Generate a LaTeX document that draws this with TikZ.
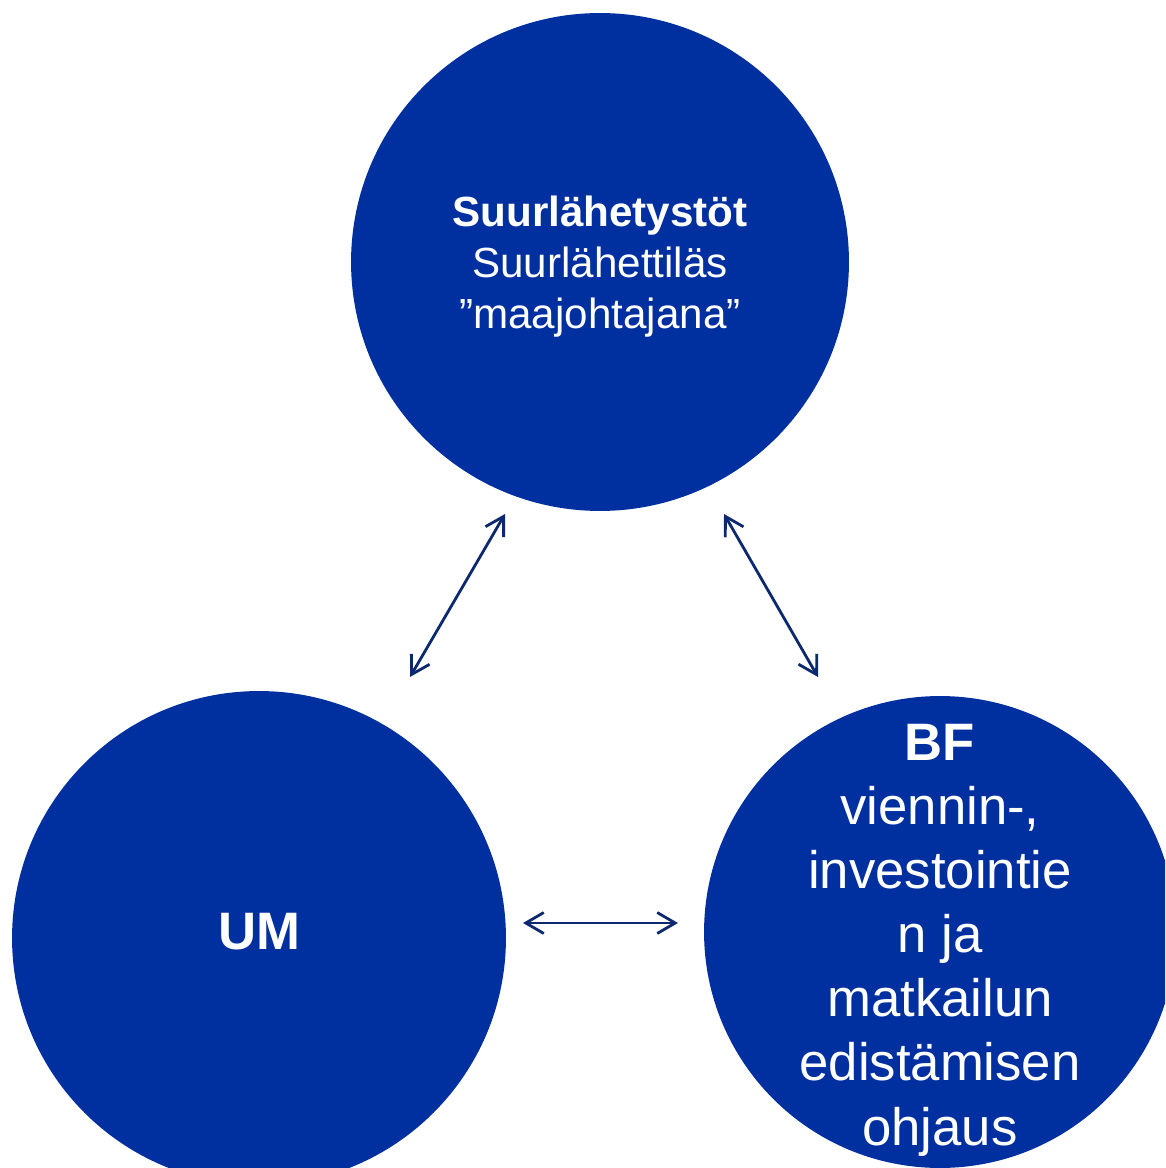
\documentclass[tikz,border=0pt]{standalone}
\usepackage{fontspec}
\setmainfont{Liberation Sans}
\usetikzlibrary{arrows.meta,positioning}
\definecolor{discblue}{RGB}{0,47,160}
\definecolor{linkblue}{RGB}{12,40,110}

\begin{document}
\begin{tikzpicture}[x=0.02cm,y=-0.02cm,
	disc/.style={circle,fill=discblue,inner sep=0pt},
	txt/.style={text=white,align=center,inner sep=0pt},
	link/.style={{Straight Barb[length=0.36cm,width=0.42cm]}-{Straight Barb[length=0.36cm,width=0.42cm]},line width=1.6pt,linkblue}]
		\useasboundingbox (0,0) rectangle (1165,1168);
		\clip (0,0) rectangle (1165,1168);
		% the three circles
		\node[disc,minimum size=9.96cm] (suur) at (600,262) {};
		\node[disc,minimum size=9.88cm] (um) at (259,938) {};
		\node[disc,minimum size=9.44cm] (bf) at (940,932) {};
		\node[txt,font=\fontsize{24}{29}\selectfont] (suurtxt) at ([yshift=-0.1cm]suur) {\textbf{Suurlähetystöt}\\Suurlähettiläs\\”maajohtajana”};
		\node[txt,font=\fontsize{30}{36.3}\selectfont\bfseries] (umtxt) at ([yshift=0.12cm]um) {UM};
		\node[txt,font=\fontsize{30}{36.5}\selectfont] (bftxt) at ([yshift=-0.16cm]bf) {\textbf{BF}\\viennin-,\\investointie\\n ja\\matkailun\\edistämisen\\ohjaus};
		% arrow ends
		\coordinate (um-top) at (410,677);
		\coordinate (suur-left) at (505,514);
		\coordinate (suur-right) at (724,514);
		\coordinate (bf-top) at (818,677);
		\coordinate (um-right) at (523,923);
		\coordinate (bf-left) at (678,923);
		\draw[link] (um-top) -- (suur-left);
		\draw[link] (suur-right) -- (bf-top);
		\draw[link] (um-right) -- (bf-left);
	\end{tikzpicture}
\end{document}
